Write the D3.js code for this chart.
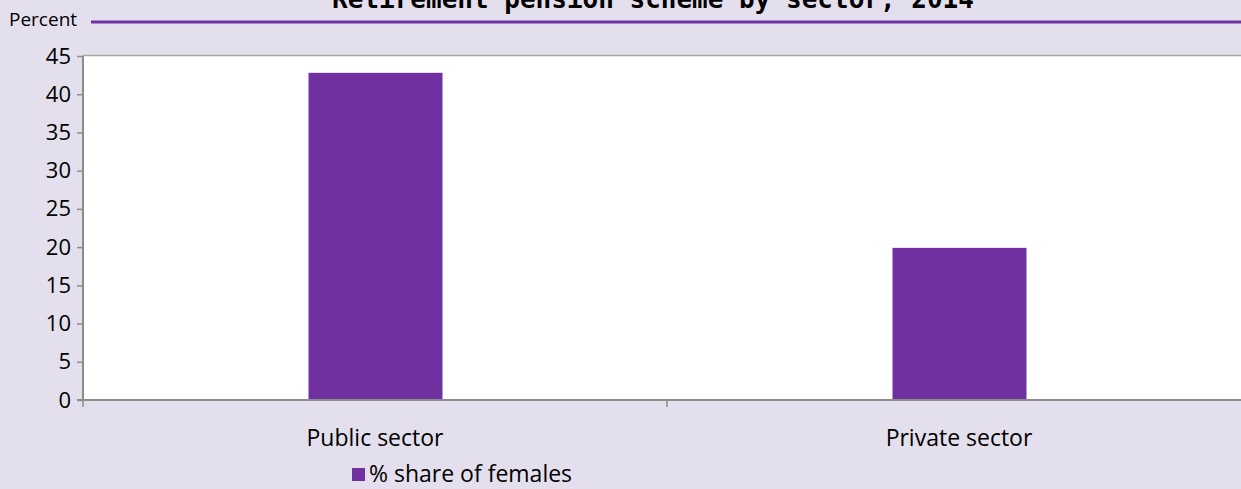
<!DOCTYPE html>
<html>
<head>
<meta charset="utf-8">
<script src="https://cdn.jsdelivr.net/npm/d3@7"></script>
<style>
  body { margin: 0; background: #e4dfec; }
  svg { display: block; }
  text { font-family: "Open Sans", "Noto Sans", sans-serif; fill: #000; }
</style>
</head>
<body>
<script>
// chart data
var categories = ["Public sector", "Private sector"];
var values = [42.8, 19.9];
var seriesName = "% share of females";
var yTicks = [0, 5, 10, 15, 20, 25, 30, 35, 40, 45];

var width = 1241,
    height = 489;

var svg = d3.select("body").append("svg")
    .attr("width", width)
    .attr("height", height);

// plot area
var plotLeft = 83, plotRight = 1251, plotTop = 56, plotBottom = 400;

var x = d3.scaleBand().domain(categories).range([plotLeft, plotRight]).paddingInner(0).paddingOuter(0);
var y = d3.scaleLinear().domain([0, 45]).range([plotBottom, plotTop]);

svg.append("rect")
    .attr("x", plotLeft).attr("y", plotTop)
    .attr("width", plotRight - plotLeft).attr("height", plotBottom - plotTop)
    .attr("fill", "#fff");

// top border line of plot
svg.append("line")
    .attr("x1", plotLeft).attr("x2", width)
    .attr("y1", plotTop - 0.5).attr("y2", plotTop - 0.5)
    .attr("stroke", "#a6a6a6").attr("stroke-width", 1.5);

// title (clipped at top like the original)
svg.append("text")
    .attr("x", 653).attr("y", 8)
    .attr("text-anchor", "middle")
    .style("font-family", "'DejaVu Sans Mono', 'Liberation Mono', monospace")
    .style("font-weight", "bold")
    .style("font-size", "26px")
    .text("Retirement pension scheme by sector, 2014");

svg.append("line")
    .attr("x1", 91).attr("x2", width)
    .attr("y1", 22).attr("y2", 22)
    .attr("stroke", "#7030a0").attr("stroke-width", 3);

svg.append("text")
    .attr("x", 9).attr("y", 26)
    .style("font-size", "19px")
    .text("Percent");

// bars
var bw = 134;
svg.selectAll(".bar").data(values).enter().append("rect")
    .attr("class", "bar")
    .attr("x", function(d, i) { return x(categories[i]) + x.bandwidth() / 2 - bw / 2 + 0.5; })
    .attr("y", function(d) { return y(d); })
    .attr("width", bw)
    .attr("height", function(d) { return plotBottom - y(d); })
    .attr("fill", "#7030a0");

// y axis
var yAxis = svg.append("g")
    .attr("transform", "translate(" + plotLeft + ",0)")
    .call(d3.axisLeft(y).tickValues(yTicks).tickSize(6).tickPadding(6));
yAxis.select(".domain").attr("stroke", "#8c8c8c").attr("stroke-width", 2).attr("d", "M0," + plotTop + "V" + plotBottom);
yAxis.selectAll(".tick line").attr("stroke", "#8c8c8c").attr("stroke-width", 1.5);
yAxis.selectAll(".tick text")
    .style("font-family", "'Open Sans', 'Noto Sans', sans-serif")
    .style("font-size", "22px").attr("fill", "#000").attr("x", -12);

// x axis
var xAxis = svg.append("g")
    .attr("transform", "translate(0," + plotBottom + ")");
xAxis.append("line")
    .attr("x1", plotLeft - 6).attr("x2", width)
    .attr("y1", 0).attr("y2", 0)
    .attr("stroke", "#8c8c8c").attr("stroke-width", 2);
var bounds = [plotLeft, x(categories[1]), plotRight];
xAxis.selectAll(".xtick").data(bounds).enter().append("line")
    .attr("class", "xtick")
    .attr("x1", function(d) { return d; }).attr("x2", function(d) { return d; })
    .attr("y1", 0).attr("y2", 7)
    .attr("stroke", "#8c8c8c").attr("stroke-width", 1.5);
xAxis.selectAll(".xlab").data(categories).enter().append("text")
    .attr("class", "xlab")
    .attr("x", function(d) { return x(d) + x.bandwidth() / 2; })
    .attr("y", 46)
    .attr("text-anchor", "middle")
    .style("font-size", "23px")
    .text(function(d) { return d; });

// legend
var legend = svg.append("g").attr("transform", "translate(352,468)");
legend.append("rect").attr("x", 0).attr("y", 0).attr("width", 13).attr("height", 13).attr("fill", "#7030a0");
legend.append("text").attr("x", 17).attr("y", 14).style("font-size", "23px").text(seriesName);
</script>
</body>
</html>
